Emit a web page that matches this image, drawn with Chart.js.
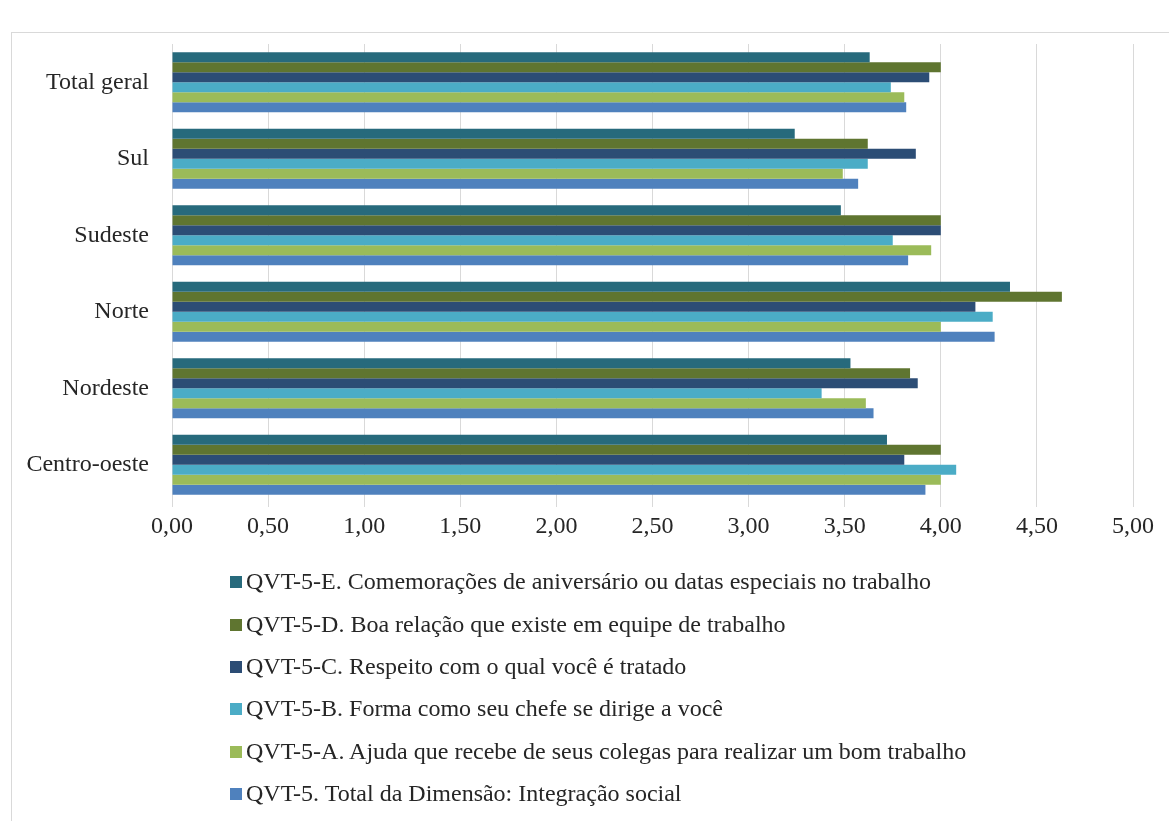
<!DOCTYPE html>
<html lang="pt">
<head>
    <meta charset="UTF-8">
    <title>QVT-5 Integração social</title>
    <script src="https://cdn.jsdelivr.net/npm/chart.js@4.4.0/dist/chart.umd.min.js"></script>
    <style>
        * {
            margin: 0;
            padding: 0;
            box-sizing: border-box;
        }

        body {
            width: 1169px;
            height: 821px;
            background: #fff;
            overflow: hidden;
            position: relative;
            font-family: "Liberation Serif", "Times New Roman", serif;
        }

        .frame {
            position: absolute;
            left: 11px;
            top: 32px;
            width: 1200px;
            height: 900px;
            border: 1px solid #d9d9d9;
        }

        #chart {
            position: absolute;
            left: 0;
            top: 0;
        }

        #legend {
            position: absolute;
            left: 230px;
            top: 560px;
            list-style: none;
        }

        #legend li {
            height: 42.4px;
            display: flex;
            align-items: center;
            font-size: 24px;
            color: #262626;
            line-height: 28px;
            white-space: nowrap;
        }

        #legend .box {
            width: 12px;
            height: 12px;
            margin-top: 2px;
            margin-right: 4px;
        }
    </style>
</head>
<body>
    <div class="frame"></div>
    <canvas id="chart" width="1169" height="821"></canvas>
    <ul id="legend"></ul>

    <script>
        // Data
        const regions = ['Total geral', 'Sul', 'Sudeste', 'Norte', 'Nordeste', 'Centro-oeste'];

        const qvt5E = [3.63, 3.24, 3.48, 4.36, 3.53, 3.72];
        const qvt5D = [4.00, 3.62, 4.00, 4.63, 3.84, 4.00];
        const qvt5C = [3.94, 3.87, 4.00, 4.18, 3.88, 3.81];
        const qvt5B = [3.74, 3.62, 3.75, 4.27, 3.38, 4.08];
        const qvt5A = [3.81, 3.49, 3.95, 4.00, 3.61, 4.00];
        const qvt5Total = [3.82, 3.57, 3.83, 4.28, 3.65, 3.92];

        const xTicks = [0, 0.5, 1, 1.5, 2, 2.5, 3, 3.5, 4, 4.5, 5];

        const seriesNames = [
            'QVT-5-E. Comemorações de aniversário ou datas especiais no trabalho',
            'QVT-5-D. Boa relação que existe em equipe de trabalho',
            'QVT-5-C. Respeito com o qual você é tratado',
            'QVT-5-B. Forma como seu chefe se dirige a você',
            'QVT-5-A. Ajuda que recebe de seus colegas para realizar um bom trabalho',
            'QVT-5. Total da Dimensão: Integração social'
        ];
        const seriesColors = ['#276a7c', '#5f7530', '#2c4d75', '#4bacc6', '#9bbb59', '#4f81bd'];
        const seriesValues = [qvt5E, qvt5D, qvt5C, qvt5B, qvt5A, qvt5Total];

        const fmt = v => v.toFixed(2).replace('.', ',');
        const serif = '"Liberation Serif", "Times New Roman", serif';

        const datasets = seriesNames.map((name, i) => ({
            label: name,
            data: seriesValues[i],
            backgroundColor: seriesColors[i],
            borderWidth: 0,
            barPercentage: 1.0,
            categoryPercentage: 0.783
        }));

        const chart = new Chart(document.getElementById('chart'), {
            type: 'bar',
            data: { labels: regions, datasets: datasets },
            options: {
                indexAxis: 'y',
                responsive: false,
                animation: false,
                layout: {
                    padding: { left: 0, right: 36, top: 44, bottom: 278 }
                },
                plugins: {
                    legend: { display: false },
                    tooltip: { enabled: false }
                },
                scales: {
                    x: {
                        min: 0,
                        max: 5,
                        afterBuildTicks: axis => {
                            axis.ticks = xTicks.map(v => ({ value: v }));
                        },
                        afterFit: axis => { axis.height = 40; },
                        grid: {
                            color: '#d9d9d9',
                            tickLength: 4,
                            drawTicks: true
                        },
                        border: { display: false },
                        ticks: {
                            padding: 5,
                            color: '#262626',
                            font: { family: serif, size: 24 },
                            callback: value => fmt(value)
                        }
                    },
                    y: {
                        afterFit: axis => { axis.width = 172; },
                        grid: { display: false, drawTicks: false },
                        border: { display: false },
                        ticks: {
                            padding: 23,
                            color: '#262626',
                            font: { family: serif, size: 24 }
                        }
                    }
                }
            }
        });

        // HTML legend, one item per row
        const legend = document.getElementById('legend');
        chart.data.datasets.forEach(ds => {
            const li = document.createElement('li');
            const box = document.createElement('span');
            box.className = 'box';
            box.style.background = ds.backgroundColor;
            const txt = document.createElement('span');
            txt.textContent = ds.label;
            li.appendChild(box);
            li.appendChild(txt);
            legend.appendChild(li);
        });
    </script>
</body>
</html>
